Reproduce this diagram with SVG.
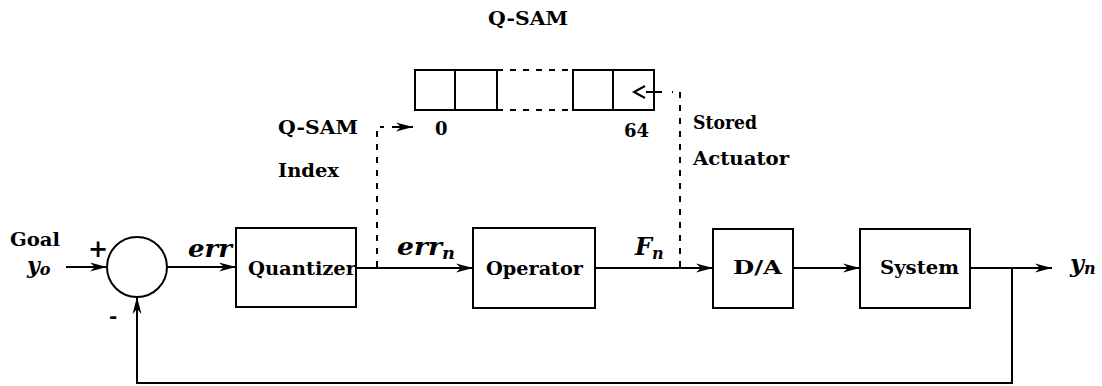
<svg xmlns="http://www.w3.org/2000/svg" width="1102" height="386" viewBox="0 0 1102 386">
<defs>
<style>
.ln{stroke:#000;stroke-width:2;fill:none}
.dash{stroke:#000;stroke-width:2;fill:none;stroke-dasharray:6,7}
.box{stroke:#000;stroke-width:2;fill:#fff}
text{font-family:'DejaVu Serif','Liberation Serif',serif;font-weight:bold;fill:#000}
.b{font-size:19px}
.s{font-size:18px}
.i{font-style:italic;font-size:24px}
.sub{font-style:italic;font-size:16px}
</style>
<marker id="ah" markerWidth="18" markerHeight="10" refX="17" refY="5" orient="auto" markerUnits="userSpaceOnUse">
<path d="M0,0.5 L17,5 L0,9.5 L5,5 Z" fill="#000"/>
</marker>
</defs>

<g id="connectors">
<line class="ln" x1="66" y1="267" x2="107" y2="267" marker-end="url(#ah)"/>
<line class="ln" x1="167" y1="267" x2="236" y2="267" marker-end="url(#ah)"/>
<line class="ln" x1="356" y1="268" x2="473" y2="268" marker-end="url(#ah)"/>
<line class="ln" x1="595" y1="268" x2="713" y2="268" marker-end="url(#ah)"/>
<line class="ln" x1="793" y1="268" x2="860" y2="268" marker-end="url(#ah)"/>
<line class="ln" x1="970" y1="268" x2="1052" y2="268" marker-end="url(#ah)"/>
<polyline class="ln" points="1012,268 1012,383 137,383 137,297" marker-end="url(#ah)"/>
<polyline class="dash" points="377,267 377,127 384,127"/>
<line class="ln" x1="392" y1="127" x2="413" y2="127" marker-end="url(#ah)"/>
<polyline class="dash" points="680,267 680,92 672,92"/>
<line class="ln" x1="646" y1="92" x2="662" y2="92"/>
<polyline class="ln" points="645,86 634,92 645,98"/>
</g>

<g id="sum">
<circle class="box" cx="137" cy="267" r="30"/>
<text x="88" y="257" style="font-size:24px">+</text>
<text x="109" y="323" style="font-size:20px">-</text>
</g>

<g id="goal">
<text class="s" x="10" y="246" textLength="50" lengthAdjust="spacingAndGlyphs" style="font-size:19px">Goal</text>
<text class="i" x="27" y="273" style="font-size:22px">y<tspan class="sub" dy="2">o</tspan></text>
</g>

<g id="err-label"><text class="i" x="188" y="257" textLength="44" lengthAdjust="spacingAndGlyphs">err</text></g>

<g id="quantizer">
<rect class="box" x="236" y="228" width="120" height="79"/>
<text class="b" x="248" y="275" textLength="108" lengthAdjust="spacingAndGlyphs">Quantizer</text>
</g>

<g id="errn-label"><text class="i" x="397" y="255" textLength="58" lengthAdjust="spacingAndGlyphs">err<tspan class="sub" dy="4">n</tspan></text></g>

<g id="operator">
<rect class="box" x="473" y="228" width="122" height="80"/>
<text class="b" x="486" y="275" textLength="97" lengthAdjust="spacingAndGlyphs">Operator</text>
</g>

<g id="fn-label"><text class="i" x="635" y="255">F<tspan class="sub" dy="4">n</tspan></text></g>

<g id="da">
<rect class="box" x="713" y="229" width="80" height="79"/>
<text class="b" x="733" y="274" textLength="49" lengthAdjust="spacingAndGlyphs">D/A</text>
</g>

<g id="system">
<rect class="box" x="860" y="229" width="110" height="79"/>
<text class="b" x="880" y="274" textLength="79" lengthAdjust="spacingAndGlyphs">System</text>
</g>

<g id="yn-label"><text class="i" x="1070" y="272">y<tspan class="sub" dy="2">n</tspan></text></g>

<g id="qsam">
<text class="s" x="488" y="25" textLength="80" lengthAdjust="spacingAndGlyphs">Q-SAM</text>
<rect class="box" x="415" y="70" width="40" height="40"/>
<rect class="box" x="455" y="70" width="42" height="40"/>
<line class="dash" x1="497" y1="70" x2="573" y2="70"/>
<line class="dash" x1="497" y1="110" x2="573" y2="110"/>
<rect class="box" x="573" y="70" width="40" height="40"/>
<rect class="box" x="613" y="70" width="41" height="40" style="fill:none"/>
<text class="s" x="435" y="135">0</text>
<text class="s" x="624" y="137">64</text>
</g>

<g id="qsam-index">
<text class="s" x="278" y="134" textLength="80" lengthAdjust="spacingAndGlyphs">Q-SAM</text>
<text class="s" x="278" y="177" textLength="61" lengthAdjust="spacingAndGlyphs">Index</text>
</g>

<g id="stored-actuator">
<text class="s" x="693" y="129" textLength="64" lengthAdjust="spacingAndGlyphs">Stored</text>
<text class="s" x="693" y="165" textLength="96" lengthAdjust="spacingAndGlyphs">Actuator</text>
</g>
</svg>
